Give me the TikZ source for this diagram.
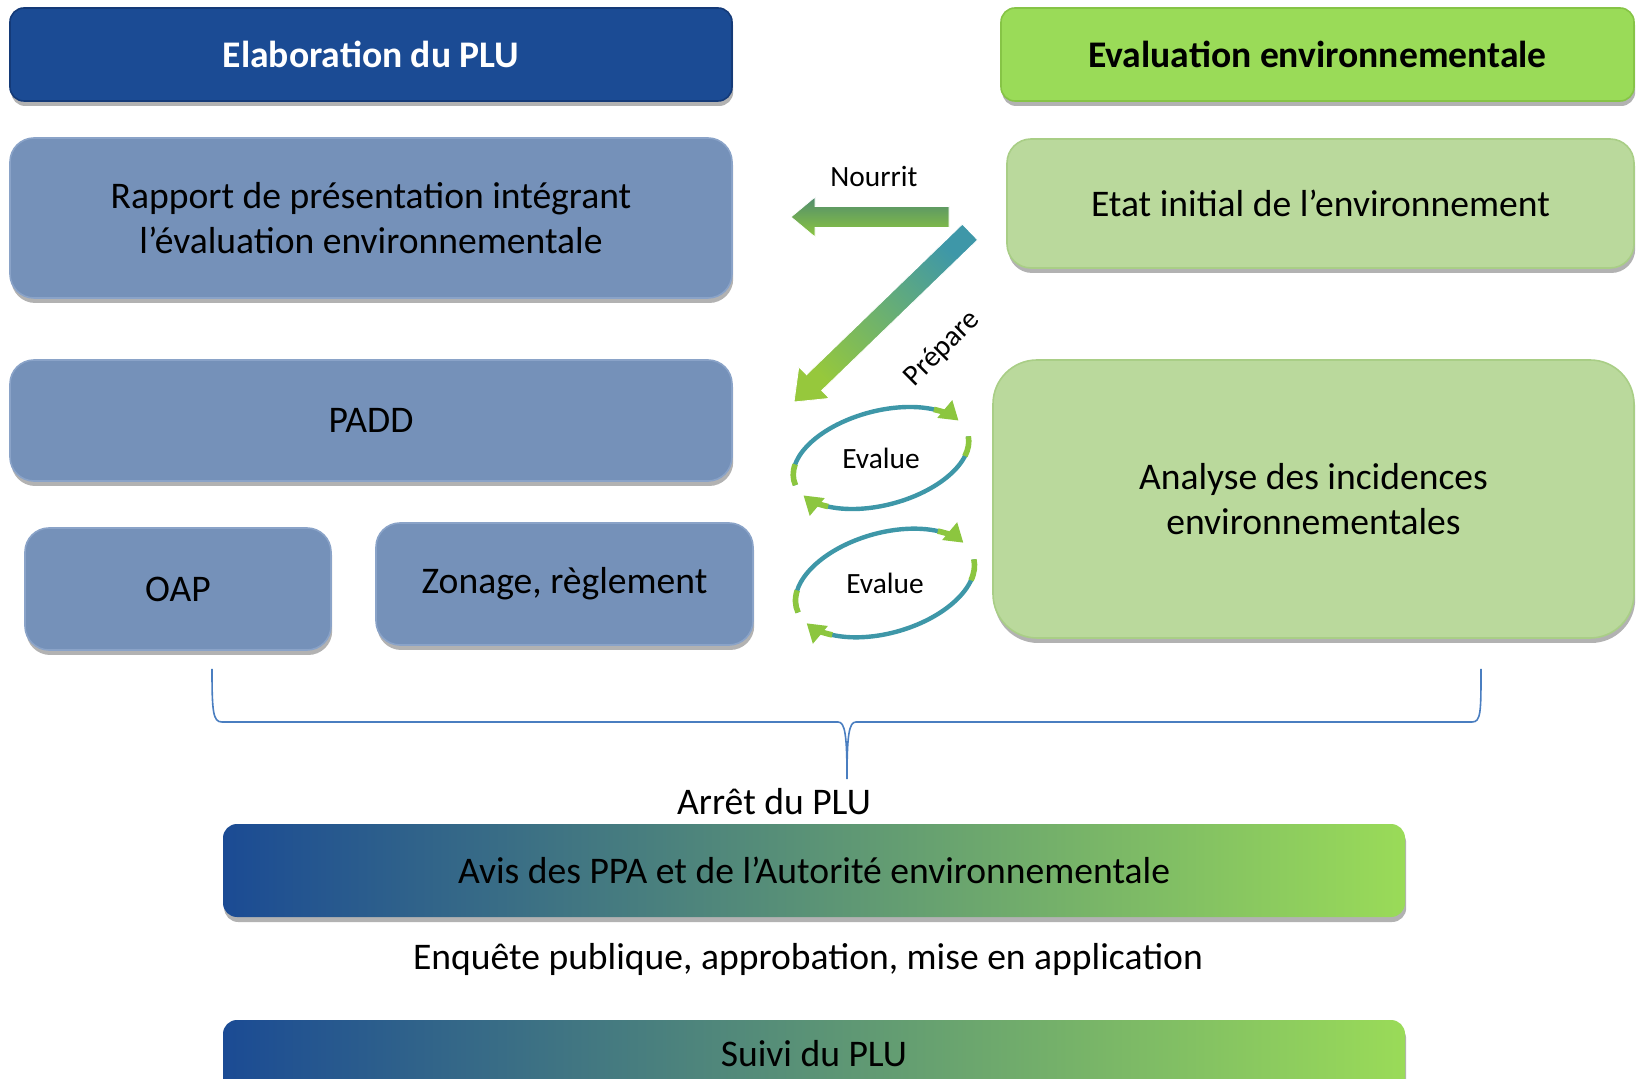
\documentclass[tikz,border=0pt]{standalone}
\usepackage{fontspec}
\setmainfont{Carlito}
\usetikzlibrary{shadows,arrows.meta}
\definecolor{dblue}{HTML}{1B4B94}
\definecolor{dblueedge}{HTML}{143A78}
\definecolor{mblue}{HTML}{7591B9}
\definecolor{mblueedge}{HTML}{8AA3C8}
\definecolor{tgreen}{HTML}{9ADB58}
\definecolor{tgreenedge}{HTML}{86C446}
\definecolor{lgreen}{HTML}{BAD99C}
\definecolor{lgreenedge}{HTML}{A9CE86}
\definecolor{bracec}{HTML}{4A7EC0}
\definecolor{teal}{HTML}{3E97A8}
\definecolor{agreen}{HTML}{8CC63F}
\definecolor{barmid}{HTML}{6E9E84}
\definecolor{nourtop}{HTML}{508C6E}
\definecolor{prepbot}{HTML}{96C83C}
\begin{document}
\begin{tikzpicture}[x=0.5pt,y=-0.5pt,
  shad/.style={drop shadow={shadow xshift=0.6pt,shadow yshift=-2.5pt,opacity=0.3,fill=black}},
  title/.style={rounded corners=7pt,line width=0.8pt,inner sep=0pt,align=center,shad,
     font=\fontsize{18.8}{22}\selectfont\bfseries},
  box/.style={rounded corners=12pt,line width=0.8pt,inner sep=0pt,align=center,shad,
     font=\fontsize{18.8}{22.5}\selectfont},
  bluebox/.style={box,draw=mblueedge,fill=mblue},
  greenbox/.style={box,draw=lgreenedge,fill=lgreen},
  bar/.style={rounded corners=7pt,inner sep=0pt,shad,draw=none,
     left color=dblue,middle color=barmid,right color=tgreen},
  lbl/.style={font=\fontsize{18.8}{22}\selectfont,inner sep=0pt},
  small/.style={font=\fontsize{14.7}{17}\selectfont,inner sep=0pt},
  brace/.style={draw=bracec,line width=0.8pt},
  loop/.style={line width=2.2pt,draw=teal},
  loopend/.style={line width=2.8pt,draw=agreen},
  looptip/.style={-{Triangle[length=9pt,width=11pt]}},
]
\useasboundingbox (0,0) rectangle (1639,1079);
\clip (0,0) rectangle (1639,1079);
% titles
\node[title,draw=dblueedge,fill=dblue,text=white,minimum width=361pt,minimum height=46.5pt] (elab) at (371,54.5) {Elaboration du PLU};
\node[title,draw=tgreenedge,fill=tgreen,text=black,minimum width=316.5pt,minimum height=46.5pt] (evalenv) at (1317.5,54.5) {Evaluation environnementale};
% left boxes
\node[bluebox,minimum width=361pt,minimum height=80pt] (rapport) at (371,218) {Rapport de présentation intégrant\\l’évaluation environnementale};
\node[bluebox,minimum width=361pt,minimum height=60.5pt] (padd) at (371,420.5) {PADD};
\node[bluebox,minimum width=153pt,minimum height=61pt] (oap) at (178,589) {OAP};
\node[bluebox,minimum width=188.5pt,minimum height=61pt] (zonage) at (564.5,584) {Zonage, règlement};
% right boxes
\node[greenbox,minimum width=313.5pt,minimum height=64.5pt] (etat) at (1320.5,203.5) {Etat initial de l’environnement};
\node[greenbox,rounded corners=22pt,minimum width=320.5pt,minimum height=139pt] (analyse) at (1313.5,499) {Analyse des incidences\\environnementales};
% Nourrit arrow
\shade[top color=nourtop,bottom color=agreen,draw=white,line width=0.4pt]
  (949,206.5) -- (815,206.5) -- (815,197) -- (791,217) -- (815,237) -- (815,227.5) -- (949,227.5) -- cycle;
\node[small] (nourrit) at (874,176) {Nourrit};
% Prepare arrow
\shade[shading=axis,top color=teal,bottom color=prepbot,shading angle=-45,draw=white,line width=0.4pt]
  (977.6,239.9) -- (962.4,224.1) -- (806.5,374.7) -- (798.8,366.8) -- (794,402) -- (829.4,398.4) -- (821.7,390.5) -- cycle;
\node[small,rotate=45] (prepare) at (942,349) {Prépare};
% Evalue loops
\node[small] (ev1) at (881,458) {Evalue};
\node[small] (ev2) at (885,583) {Evalue};
\foreach \cx/\cy/\rx/\ry/\rot in {881/458/90/47/15, 885/583/92/50/16}{
  \begin{scope}[shift={(\cx,\cy)},rotate=\rot]
    \draw[loop] ({\rx*cos(-185)},{\ry*sin(-185)}) arc[start angle=-185,end angle=-40,x radius=\rx,y radius=\ry];
    \draw[loopend] ({\rx*cos(-185)},{\ry*sin(-185)}) arc[start angle=-185,end angle=-160,x radius=\rx,y radius=\ry];
    \draw[loopend,looptip] ({\rx*cos(-45)},{\ry*sin(-45)}) arc[start angle=-45,end angle=-20,x radius=\rx,y radius=\ry];
    \draw[loop] ({\rx*cos(2)},{\ry*sin(2)}) arc[start angle=2,end angle=140,x radius=\rx,y radius=\ry];
    \draw[loopend] ({\rx*cos(2)},{\ry*sin(2)}) arc[start angle=2,end angle=25,x radius=\rx,y radius=\ry];
    \draw[loopend,looptip] ({\rx*cos(135)},{\ry*sin(135)}) arc[start angle=135,end angle=160,x radius=\rx,y radius=\ry];
  \end{scope}
}
% brace
\coordinate (bl) at (212,669);
\coordinate (br) at (1481,669);
\coordinate (btip) at (847,779);
\draw[brace] (bl) .. controls (212,712) and (213,722) .. (222,722) -- (838,722)
  .. controls (845,722) and (847,735) .. (btip)
  .. controls (847,735) and (849,722) .. (856,722) -- (1472,722)
  .. controls (1481,722) and (1481,712) .. (br);
\node[lbl] (arret) at (774,802) {Arrêt du PLU};
\node[bar,minimum width=591pt,minimum height=46.5pt,font=\fontsize{18.8}{22}\selectfont] (avis) at (814,870.5) {Avis des PPA et de l’Autorité environnementale};
\node[lbl] (enquete) at (808,959) {Enquête publique, approbation, mise en application};
\node[bar,minimum width=591pt,minimum height=46.5pt] (suivibox) at (814,1066.5) {};
\node[lbl] (suivi) at (814,1054) {Suivi du PLU};
\end{tikzpicture}
\end{document}
